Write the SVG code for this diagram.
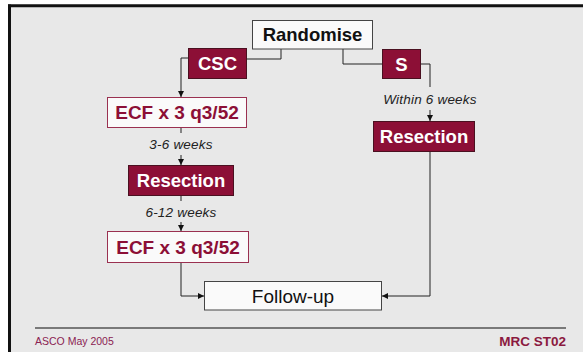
<svg xmlns="http://www.w3.org/2000/svg" width="583" height="352" viewBox="0 0 583 352">
<defs>
<style>
.bg{fill:#e8e8e8}
.frame{stroke:#111;fill:none}
.wbox{fill:#fafafa;stroke:#444;stroke-width:1}
.mbox{fill:#8c0f36;stroke:#4a1020;stroke-width:1}
.pbox{fill:#fafafa;stroke:#9a3050;stroke-width:1}
.t{font-family:"Liberation Sans",Arial,sans-serif;text-anchor:middle}
.tb{font-weight:bold;font-size:18.5px}
.ecf{font-weight:bold;font-size:19px;fill:#8c0f36}
.tw{fill:#ffffff}
.tk{fill:#111}
.lab{font-family:"Liberation Sans",Arial,sans-serif;font-style:italic;font-size:13.5px;fill:#222;text-anchor:middle;letter-spacing:0.2px}
.conn{stroke:#222;stroke-width:1;fill:none}
</style>
<marker id="arr" markerUnits="userSpaceOnUse" markerWidth="6" markerHeight="6" refX="6" refY="3" orient="auto">
<path d="M0,0 L6,3 L0,6 z" fill="#111"/>
</marker>
</defs>
<rect x="0" y="0" width="583" height="352" fill="#ffffff"/>
<rect class="bg" x="9.5" y="5.5" width="573.5" height="346.5"/>
<line class="frame" x1="8" y1="5.8" x2="583" y2="5.8" stroke-width="3"/>
<line class="frame" x1="9.5" y1="4.5" x2="9.5" y2="352" stroke-width="3"/>
<line x1="35" y1="328" x2="566" y2="328" stroke="#555" stroke-width="1.5"/>
<text x="35" y="345" font-family="Liberation Sans,Arial,sans-serif" font-size="10.5px" fill="#8b2252">ASCO May 2005</text>
<text x="566" y="346" font-family="Liberation Sans,Arial,sans-serif" font-size="13.5px" font-weight="bold" fill="#8b1a40" text-anchor="end">MRC ST02</text>

<g id="connectors">
<polyline class="conn" points="281,49 281,59 247,59"/>
<polyline class="conn" points="188,58 181,58 181,97" marker-end="url(#arr)"/>
<polyline class="conn" points="343,49 343,64 382,64"/>
<polyline class="conn" points="421,64 430,64 430,87"/>
<line class="conn" x1="430" y1="110" x2="430" y2="121" marker-end="url(#arr)"/>
<line class="conn" x1="181" y1="127" x2="181" y2="133"/>
<line class="conn" x1="181" y1="155" x2="181" y2="165" marker-end="url(#arr)"/>
<line class="conn" x1="181" y1="195" x2="181" y2="201"/>
<line class="conn" x1="181" y1="222" x2="181" y2="231" marker-end="url(#arr)"/>
<polyline class="conn" points="181,262 181,296 204,296" marker-end="url(#arr)"/>
<polyline class="conn" points="430,151 430,296 382,296" marker-end="url(#arr)"/>
<text class="lab" x="430" y="104">Within 6 weeks</text>
<text class="lab" x="181" y="149">3-6 weeks</text>
<text class="lab" x="181" y="217">6-12 weeks</text>
</g>

<g id="randomise">
<rect class="wbox" x="252.5" y="20.5" width="120" height="28.5"/>
<text class="t tb tk" x="312.5" y="41">Randomise</text>
</g>
<g id="csc">
<rect class="mbox" x="188.5" y="48.5" width="58" height="30"/>
<text class="t tb tw" x="217.5" y="70">CSC</text>
</g>
<g id="s">
<rect class="mbox" x="382.5" y="49.5" width="38" height="29"/>
<text class="t tb tw" x="401.5" y="70.5">S</text>
</g>
<g id="ecf1">
<rect class="pbox" x="107.5" y="97.5" width="139" height="30"/>
<text class="t ecf" x="177" y="119">ECF x 3 q3/52</text>
</g>
<g id="resection-left">
<rect class="mbox" x="128.5" y="165.5" width="105" height="30"/>
<text class="t tb tw" x="181" y="187">Resection</text>
</g>
<g id="resection-right">
<rect class="mbox" x="373.5" y="121.5" width="101" height="30"/>
<text class="t tb tw" x="424" y="143">Resection</text>
</g>
<g id="ecf2">
<rect class="pbox" x="107.5" y="231.5" width="141" height="31"/>
<text class="t ecf" x="178" y="253.5">ECF x 3 q3/52</text>
</g>
<g id="followup">
<rect class="wbox" x="204.5" y="281.5" width="177" height="28.5"/>
<text class="t tk" x="293" y="302.5" font-size="19px">Follow-up</text>
</g>
</svg>
